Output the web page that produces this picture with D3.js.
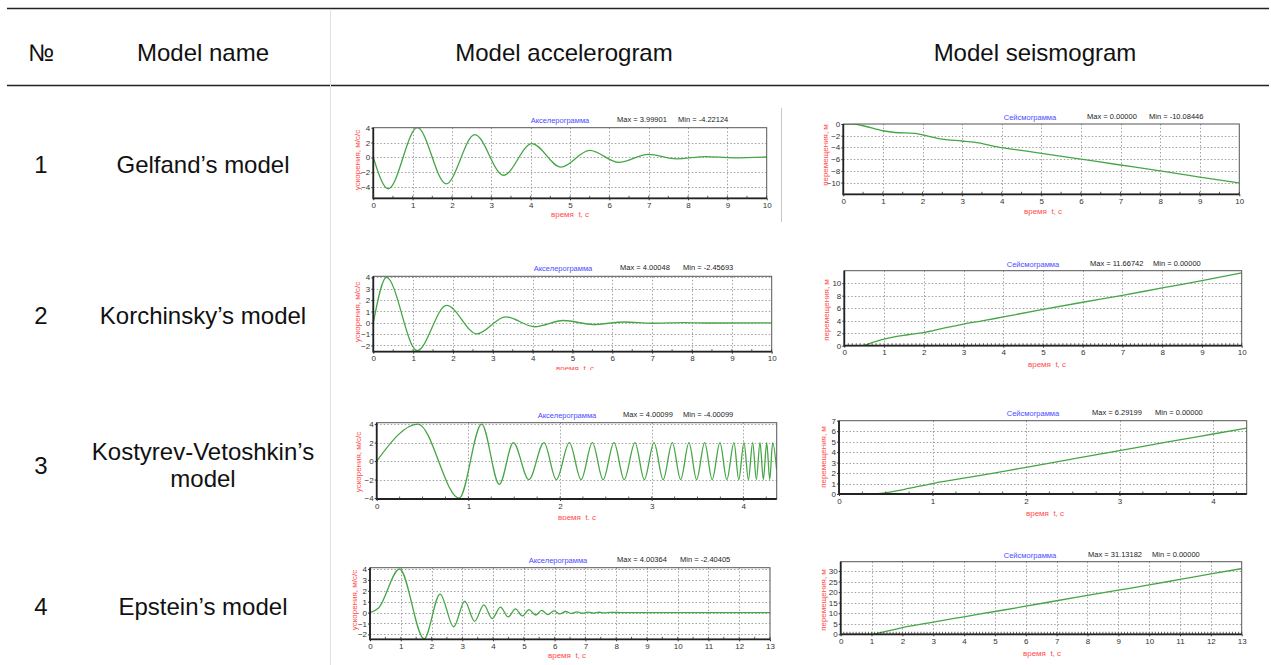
<!DOCTYPE html>
<html>
<head>
<meta charset="utf-8">
<script src="https://d3js.org/d3.v7.min.js"></script>
<style>
  body { margin: 0; background: #fff; }
  svg text { font-family: "Liberation Sans", Arial, sans-serif; }
</style>
</head>
<body>
<svg id="page" width="1271" height="665"></svg>
<script>
// ---- table text
var headers = ["№", "Model name", "Model accelerogram", "Model seismogram"];
var rowNumbers = ["1", "2", "3", "4"];
var modelNames = [["Gelfand’s model"], ["Korchinsky’s model"], ["Kostyrev-Vetoshkin’s", "model"], ["Epstein’s model"]];

// ---- accelerograms [t, a] (peaks)
var gelfandAcc = [[0, 0], [0.38, -4.22], [1.12, 4.0], [1.85, -3.56], [2.58, 3.07], [3.31, -2.4], [4.03, 1.85],
  [4.77, -1.3], [5.5, 0.95], [6.24, -0.66], [6.99, 0.4], [7.71, -0.2], [8.45, 0.12], [9.17, -0.05], [10, 0.06]];
var korchAcc = [[0, 0], [0.33, 4.0], [1.1, -2.46], [1.84, 1.53], [2.6, -0.97], [3.32, 0.53], [4.05, -0.35],
  [4.77, 0.2], [5.52, -0.15], [6.3, 0.07], [7.0, -0.04], [7.8, 0.02], [8.5, -0.02], [10, 0]];
var kostAcc = [[0, 0], [0.45, 4.0], [0.9, -4.0], [1.145, 4.0], [1.338, -2.52], [1.491, 2], [1.66, -2], [1.825, 2],
  [1.96, -2], [2.102, 2], [2.23, -2], [2.353, 2], [2.47, -2], [2.589, 2], [2.70, -2], [2.818, 2], [2.92, -2],
  [3.025, 2], [3.125, -2], [3.225, 2], [3.316, -2], [3.407, 2], [3.49, -2], [3.578, 2], [3.66, -2], [3.745, 2],
  [3.82, -2], [3.898, 2], [3.95, -2], [4.007, 2], [4.055, -2], [4.102, 2], [4.142, -2], [4.182, 2], [4.218, -2],
  [4.255, 2], [4.288, -2], [4.32, 2], [4.364, -1]];
var epsteinAcc = [[0, 0], [0.27, 0.4], [0.96, 4.0], [1.76, -2.4], [2.28, 1.7], [2.72, -1.3], [3.08, 1.05],
  [3.4, -0.8], [3.7, 0.7], [3.97, -0.55], [4.24, 0.5], [4.49, -0.4], [4.73, 0.35], [4.95, -0.3], [5.17, 0.27],
  [5.38, -0.22], [5.58, 0.2], [5.78, -0.18], [5.98, 0.15], [6.17, -0.12], [6.36, 0.1], [6.55, -0.08],
  [6.73, 0.07], [6.91, -0.06], [7.09, 0.05], [7.27, -0.04], [7.45, 0.03], [7.63, -0.02], [7.81, 0.02],
  [8.2, 0], [13, 0]];

// ---- seismograms [t, u]
var gelfandSeis = [[0, 0], [0.25, 0], [0.5, -0.3], [1, -1.15], [1.3, -1.45], [1.8, -1.6], [2, -1.85],
  [2.5, -2.6], [3, -2.9], [3.3, -3.1], [4, -4.05], [4.5, -4.5], [5, -5.0], [6, -6.0], [7, -7.0], [8, -8.0],
  [9, -9.05], [10, -10.08]];
var korchSeis = [[0, 0], [0.45, 0], [0.7, 0.5], [1, 1.05], [1.2, 1.35], [1.6, 1.75], [2, 2.1], [2.5, 2.8],
  [3, 3.45], [3.5, 4.0], [4, 4.6], [5, 5.8], [6, 6.95], [7, 8.05], [8, 9.25], [9, 10.4], [10, 11.67]];
var kostSeis = [[0, 0], [0.35, 0], [0.5, 0.12], [0.7, 0.45], [1, 1.0], [1.5, 1.75], [2, 2.55], [2.5, 3.35],
  [3, 4.15], [3.5, 4.95], [4, 5.73], [4.36, 6.29]];
var epsteinSeis = [[0, 0], [0.95, 0], [1.2, 0.5], [1.5, 1.5], [2, 3.2], [3, 5.8], [4, 8.3], [5, 10.8],
  [6, 13.3], [7, 15.9], [8, 18.4], [9, 20.9], [10, 23.4], [11, 26.0], [12, 28.6], [13, 31.13]];

var accMax = ["3.99901", "4.00048", "4.00099", "4.00364"];
var accMin = ["-4.22124", "-2.45693", "-4.00099", "-2.40405"];
var seisMax = ["0.00000", "11.66742", "6.29199", "31.13182"];
var seisMin = ["-10.08446", "0.00000", "0.00000", "0.00000"];

// ---- tick labels
var ticksX10 = [0, 1, 2, 3, 4, 5, 6, 7, 8, 9, 10];
var ticksX4 = [0, 1, 2, 3, 4];
var ticksX13 = [0, 1, 2, 3, 4, 5, 6, 7, 8, 9, 10, 11, 12, 13];
var ticksAccY = [[-4, -2, 0, 2, 4], [-2, -1, 0, 1, 2, 3, 4], [-4, -2, 0, 2, 4], [-2, -1, 0, 1, 2, 3, 4]];
var ticksSeisY = [[-10, -8, -6, -4, -2, 0], [0, 2, 4, 6, 8, 10], [0, 1, 2, 3, 4, 5, 6, 7], [0, 5, 10, 15, 20, 25, 30]];

var svg = d3.select("#page");

// ---- table frame
svg.append("line").attr("x1", 7).attr("x2", 1269).attr("y1", 8.5).attr("y2", 8.5)
  .attr("stroke", "#222").attr("stroke-width", 1.3);
svg.append("line").attr("x1", 7).attr("x2", 1269).attr("y1", 85.5).attr("y2", 85.5)
  .attr("stroke", "#222").attr("stroke-width", 1.3);
svg.append("line").attr("x1", 330.5).attr("x2", 330.5).attr("y1", 9).attr("y2", 665)
  .attr("stroke", "#e2e2e2").attr("stroke-width", 1);
svg.append("line").attr("x1", 781.5).attr("x2", 781.5).attr("y1", 108).attr("y2", 222)
  .attr("stroke", "#c8c8c8").attr("stroke-width", 1);

var headerX = [41, 203, 564, 1035];
svg.selectAll(".hdr").data(headers).enter().append("text")
  .attr("x", function(d, i) { return headerX[i]; })
  .attr("y", 52)
  .attr("text-anchor", "middle").attr("dominant-baseline", "central")
  .style("font-size", "24px").style("fill", "#111")
  .text(function(d) { return d; });

var rowY = [164, 315, 465, 606];
rowNumbers.forEach(function(n, i) {
  svg.append("text").attr("x", 41).attr("y", rowY[i])
    .attr("text-anchor", "middle").attr("dominant-baseline", "central")
    .style("font-size", "24px").style("fill", "#111").text(n);
  var lines = modelNames[i];
  lines.forEach(function(s, j) {
    svg.append("text").attr("x", 203)
      .attr("y", rowY[i] + (j - (lines.length - 1) / 2) * 27)
      .attr("text-anchor", "middle").attr("dominant-baseline", "central")
      .style("font-size", "24px").style("fill", "#111").text(s);
  });
});

// ---- chart layout (pixel boxes of each small plot)
var charts = [
  { L: 373.3, T: 127.7, R: 766.7, B: 198.3, clip: [340, 105, 440, 117], xDom: [0, 10], yDom: [-5.5, 4],
    xTicks: ticksX10, yTicks: ticksAccY[0], data: gelfandAcc, acc: true, i: 0, minor: 0.5,
    titleX: 560, titleY: 120, maxX: 617, minX: 678, axX: 570, axY: 214, ylX: 357, ylY: 160 },
  { L: 843.3, T: 124, R: 1239.3, B: 194.3, clip: [790, 105, 481, 117], xDom: [0, 10], yDom: [-12, 0],
    xTicks: ticksX10, yTicks: ticksSeisY[0], data: gelfandSeis, acc: false, i: 0, minor: 0.5,
    titleX: 1030, titleY: 117, maxX: 1087, minX: 1149, axX: 1043, axY: 211, ylX: 825, ylY: 155 },
  { L: 373.3, T: 276.3, R: 771.7, B: 351.7, clip: [340, 255, 450, 115], xDom: [0, 10], yDom: [-2.55, 4.1],
    xTicks: ticksX10, yTicks: ticksAccY[1], data: korchAcc, acc: true, i: 1, minor: 0.5,
    titleX: 563, titleY: 268, maxX: 620, minX: 683, axX: 575, axY: 368, ylX: 357, ylY: 312 },
  { L: 844.3, T: 270.7, R: 1241.7, B: 345.7, clip: [790, 255, 481, 117], xDom: [0, 10], yDom: [0, 12],
    xTicks: ticksX10, yTicks: ticksSeisY[1], data: korchSeis, acc: false, i: 1, minor: 0.1,
    titleX: 1033, titleY: 264, maxX: 1090, minX: 1153, axX: 1047, axY: 364, ylX: 826, ylY: 310 },
  { L: 376.7, T: 422.7, R: 776.7, B: 499, clip: [340, 400, 450, 120], xDom: [0, 4.364], yDom: [-4.1, 4.15],
    xTicks: ticksX4, yTicks: ticksAccY[2], data: kostAcc, acc: true, i: 2, minor: 0.25,
    titleX: 567, titleY: 415, maxX: 623, minX: 683, axX: 577, axY: 517, ylX: 358, ylY: 462 },
  { L: 839, T: 420.7, R: 1246.7, B: 494, clip: [790, 400, 481, 120], xDom: [0, 4.36], yDom: [0, 7],
    xTicks: ticksX4, yTicks: ticksSeisY[2], data: kostSeis, acc: false, i: 2, minor: 0.25,
    titleX: 1033, titleY: 413, maxX: 1092, minX: 1155, axX: 1045, axY: 513, ylX: 823, ylY: 457 },
  { L: 370, T: 567.7, R: 770, B: 639.3, clip: [340, 545, 450, 120], xDom: [0, 13], yDom: [-2.45, 4.12],
    xTicks: ticksX13, yTicks: ticksAccY[3], data: epsteinAcc, acc: true, i: 3, minor: 0.5,
    titleX: 558, titleY: 560, maxX: 617, minX: 680, axX: 567, axY: 655, ylX: 354, ylY: 600 },
  { L: 840.7, T: 561.7, R: 1241.7, B: 634.3, clip: [790, 545, 481, 120], xDom: [0, 13], yDom: [0, 34.4],
    xTicks: ticksX13, yTicks: ticksSeisY[3], data: epsteinSeis, acc: false, i: 3, minor: 0.1,
    titleX: 1030, titleY: 555, maxX: 1088, minX: 1152, axX: 1042, axY: 653, ylX: 823, ylY: 600 }
];

var defs = svg.append("defs");

charts.forEach(function(c, k) {
  defs.append("clipPath").attr("id", "img" + k).append("rect")
    .attr("x", c.clip[0]).attr("y", c.clip[1]).attr("width", c.clip[2]).attr("height", c.clip[3]);
  defs.append("clipPath").attr("id", "plot" + k).append("rect")
    .attr("x", c.L).attr("y", c.T).attr("width", c.R - c.L).attr("height", c.B - c.T);

  var g = svg.append("g").attr("clip-path", "url(#img" + k + ")");
  var x = d3.scaleLinear().domain(c.xDom).range([c.L, c.R]);
  var y = d3.scaleLinear().domain(c.yDom).range([c.B, c.T]);

  // dotted grid
  g.selectAll(".gx").data(c.xTicks.filter(function(t) { return t > c.xDom[0] && x(t) < c.R - 1; }))
    .enter().append("line")
    .attr("x1", function(d) { return Math.round(x(d)) + 0.5; })
    .attr("x2", function(d) { return Math.round(x(d)) + 0.5; })
    .attr("y1", c.T).attr("y2", c.B)
    .attr("stroke", "#8a8a8a").attr("stroke-width", 0.8).attr("stroke-dasharray", "1.5,2");
  g.selectAll(".gy").data(c.yTicks.filter(function(t) { return y(t) > c.T + 1 && y(t) < c.B - 1; }))
    .enter().append("line")
    .attr("x1", c.L).attr("x2", c.R)
    .attr("y1", function(d) { return Math.round(y(d)) + 0.5; })
    .attr("y2", function(d) { return Math.round(y(d)) + 0.5; })
    .attr("stroke", "#8a8a8a").attr("stroke-width", 0.8).attr("stroke-dasharray", "1.5,2");

  // curve
  var line = d3.line()
    .x(function(d) { return x(d[0]); })
    .y(function(d) { return y(d[1]); })
    .curve(d3.curveMonotoneX);
  g.append("g").attr("clip-path", "url(#plot" + k + ")")
    .append("path").datum(c.data)
    .attr("d", line)
    .attr("fill", "none").attr("stroke", "#46a646").attr("stroke-width", 1.3);

  // frame
  g.append("rect").attr("x", c.L).attr("y", c.T).attr("width", c.R - c.L).attr("height", c.B - c.T)
    .attr("fill", "none").attr("stroke", "#555").attr("stroke-width", 1);
  g.append("line").attr("x1", c.L).attr("x2", c.L).attr("y1", c.T).attr("y2", c.B + 1)
    .attr("stroke", "#222").attr("stroke-width", 1.8);
  g.append("line").attr("x1", c.L).attr("x2", c.R).attr("y1", c.B).attr("y2", c.B)
    .attr("stroke", "#222").attr("stroke-width", 1.8);

  // minor ticks on the time axis
  var minorVals = d3.range(c.xDom[0], c.xDom[1] + 1e-6, c.minor);
  g.selectAll(".mn").data(minorVals).enter().append("line")
    .attr("x1", function(d) { return x(d); }).attr("x2", function(d) { return x(d); })
    .attr("y1", c.B).attr("y2", c.B - 2.5)
    .attr("stroke", "#333").attr("stroke-width", 0.8);

  // axes labels
  var xa = g.append("g").attr("transform", "translate(0," + c.B + ")")
    .call(d3.axisBottom(x).tickValues(c.xTicks).tickSizeInner(2).tickSizeOuter(0).tickPadding(2).tickFormat(d3.format("d")));
  var ya = g.append("g").attr("transform", "translate(" + c.L + ",0)")
    .call(d3.axisLeft(y).tickValues(c.yTicks).tickSizeInner(2).tickSizeOuter(0).tickPadding(1).tickFormat(d3.format("d")));
  [xa, ya].forEach(function(a) {
    a.select(".domain").remove();
    a.selectAll("line").attr("stroke", "#333");
    a.selectAll("text").style("font-size", "8px").style("fill", "#333").style("font-family", "'Liberation Sans', Arial, sans-serif");
  });

  // titles
  g.append("text").attr("x", c.titleX).attr("y", c.titleY).attr("text-anchor", "middle")
    .attr("dominant-baseline", "central").style("font-size", "7.5px").style("fill", "#4a4aff")
    .text(c.acc ? "Акселерограмма" : "Сейсмограмма");
  g.append("text").attr("x", c.maxX).attr("y", c.titleY - 1).attr("dominant-baseline", "central")
    .style("font-size", "7.5px").style("fill", "#222")
    .text("Max = " + (c.acc ? accMax[c.i] : seisMax[c.i]));
  g.append("text").attr("x", c.minX).attr("y", c.titleY - 1).attr("dominant-baseline", "central")
    .style("font-size", "7.5px").style("fill", "#222")
    .text("Min = " + (c.acc ? accMin[c.i] : seisMin[c.i]));
  g.append("text").attr("x", c.axX).attr("y", c.axY).attr("text-anchor", "middle")
    .attr("dominant-baseline", "central").style("font-size", "8px").style("fill", "#ff4a4a")
    .style("white-space", "pre").text("время  t, с");
  g.append("text").attr("transform", "translate(" + c.ylX + "," + c.ylY + ") rotate(-90)")
    .attr("text-anchor", "middle").attr("dominant-baseline", "central")
    .style("font-size", "8px").style("fill", "#ff4a4a")
    .text(c.acc ? "ускорения, м/с/с" : "перемещения, м");
});
</script>
</body>
</html>
